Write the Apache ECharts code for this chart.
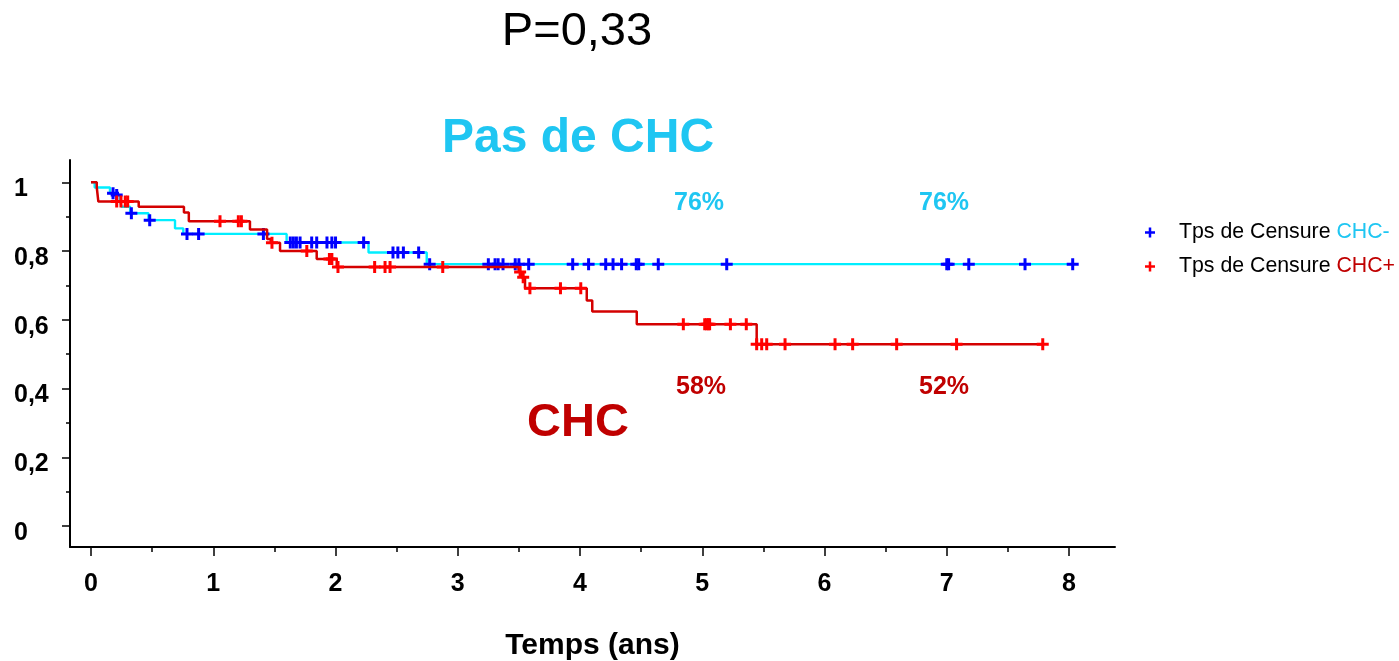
<!DOCTYPE html>
<html>
<head>
<meta charset="utf-8">
<script src="https://cdn.jsdelivr.net/npm/echarts@6/dist/echarts.min.js"></script>
<style>
html,body{margin:0;padding:0;background:#fff;}
#chart{width:1399px;height:661px;}
</style>
</head>
<body>
<div id="chart"></div>
<script>
// ---- Data ----
// Kaplan-Meier step curve, no CHC (CHC-): event times (years) and survival after each event
const blueTimes = [0, 0.03, 0.155, 0.196, 0.237, 0.25, 0.32, 0.47, 0.687, 0.755, 1.60, 2.27, 2.746];
const blueSurv  = [1.0, 0.985, 0.968, 0.963, 0.944, 0.929, 0.91, 0.89, 0.866, 0.85, 0.825, 0.796, 0.762];
const blueEnd = 8.03;
// censoring times CHC-
const blueCensor = [0.18, 0.21, 0.33, 0.48, 0.785, 0.88, 1.41, 1.63, 1.655, 1.68, 1.71, 1.805, 1.846,
  1.93, 1.97, 2.00, 2.23, 2.47, 2.51, 2.555, 2.68, 2.77, 3.25, 3.305, 3.33, 3.37, 3.47, 3.50, 3.58,
  3.94, 4.07, 4.21, 4.27, 4.34, 4.46, 4.48, 4.64, 5.20, 7.00, 7.015, 7.18, 7.64, 8.03];

// Kaplan-Meier step curve, CHC (CHC+)
const redTimes = [0, 0.047, 0.06, 0.39, 0.76, 0.80, 1.30, 1.44, 1.47, 1.546, 1.846, 2.01, 3.50, 3.52, 3.55, 4.055, 4.10, 4.464, 5.445];
const redSurv  = [1.0, 0.985, 0.944, 0.929, 0.912, 0.887, 0.863, 0.835, 0.824, 0.80, 0.777, 0.754, 0.739, 0.724, 0.692, 0.656, 0.624, 0.587, 0.529];
const redEnd = 7.785;
// censoring times CHC+
const redCensor = [0.21, 0.245, 0.28, 0.30, 1.055, 1.205, 1.23, 1.48, 1.765, 1.95, 1.97, 2.02, 2.32,
  2.405, 2.446, 2.877, 3.51, 3.535, 3.59, 3.84, 4.006, 4.845, 5.02, 5.035, 5.05, 5.06, 5.23, 5.36,
  5.445, 5.486, 5.527, 5.677, 6.086, 6.23, 6.59, 7.08, 7.785];

// Axis ticks
const xTicks = [0, 1, 2, 3, 4, 5, 6, 7, 8];
const xMinorTicks = [0.5, 1.5, 2.5, 3.5, 4.5, 5.5, 6.5, 7.5];
const yTicks = [0, 0.2, 0.4, 0.6, 0.8, 1];
const yMinorTicks = [0.1, 0.3, 0.5, 0.7, 0.9];

// Text
const titleText = 'P=0,33';
const xAxisName = 'Temps (ans)';
const labelNoCHC = 'Pas de CHC';
const labelCHC = 'CHC';
const pctNoCHC = ['76%', '76%'];
const pctCHC = ['58%', '52%'];

// ---- Helpers ----
function stepData(times, surv, end) {
  const d = times.map((t, i) => [t, surv[i]]);
  d.push([end, surv[surv.length - 1]]);
  return d;
}
function survAt(times, surv, t) {
  let s = surv[0];
  for (let i = 0; i < times.length; i++) { if (times[i] <= t) s = surv[i]; }
  return s;
}
function censorData(cens, times, surv) {
  return cens.map(t => [t, survAt(times, surv, t)]);
}

const FONT = '"Liberation Sans", Arial, Helvetica, sans-serif';
const CYAN_TXT = '#1FC6F2';
const DARK_RED = '#C00000';
const PLUS = 'path://M3.75,0H6.25V3.75H10V6.25H6.25V10H3.75V6.25H0V3.75H3.75Z';
const fmtNum = v => String(v).replace('.', ',');

const chart = echarts.init(document.getElementById('chart'), null, {renderer: 'canvas'});

const xMin = -0.172, xMax = 8.376, yMin = -0.061, yMax = 1.065;

const option = {
  animation: false,
  backgroundColor: '#fff',
  textStyle: {fontFamily: FONT},
  grid: {left: 70, right: 284, top: 160, bottom: 114, containLabel: false, outerBoundsMode: 'none'},
  xAxis: [
    {
      type: 'value', min: xMin, max: xMax, position: 'bottom',
      axisLine: {show: true, onZero: false, lineStyle: {color: '#000', width: 2}},
      axisTick: {show: true, customValues: xTicks, length: 9, lineStyle: {color: '#000', width: 1.5}},
      axisLabel: {show: true, customValues: xTicks, margin: 25, color: '#000', fontSize: 25, fontWeight: 'bold', fontFamily: FONT, formatter: fmtNum},
      splitLine: {show: false},
      name: xAxisName, nameLocation: 'middle', nameGap: 84,
      nameTextStyle: {color: '#000', fontSize: 30, fontWeight: 'bold', fontFamily: FONT}
    },
    {
      type: 'value', min: xMin, max: xMax, position: 'bottom', gridIndex: 0,
      axisLine: {show: false, onZero: false},
      axisTick: {show: true, customValues: xMinorTicks, length: 5, lineStyle: {color: '#000', width: 1.5}},
      axisLabel: {show: false},
      splitLine: {show: false}
    }
  ],
  yAxis: [
    {
      type: 'value', min: yMin, max: yMax, position: 'left',
      axisLine: {show: true, onZero: false, lineStyle: {color: '#000', width: 2}},
      axisTick: {show: true, customValues: yTicks, length: 8, lineStyle: {color: '#000', width: 1.5}},
      axisLabel: {show: true, customValues: yTicks, margin: 56, align: 'left',
        formatter: v => '{a|' + fmtNum(v) + '}',
        rich: {a: {color: '#000', fontSize: 25, fontWeight: 'bold', fontFamily: FONT, padding: [14, 0, 0, 0]}}},
      splitLine: {show: false}
    },
    {
      type: 'value', min: yMin, max: yMax, position: 'left', gridIndex: 0,
      axisLine: {show: false, onZero: false},
      axisTick: {show: true, customValues: yMinorTicks, length: 4, lineStyle: {color: '#000', width: 1.5}},
      axisLabel: {show: false},
      splitLine: {show: false}
    }
  ],
  legend: {
    orient: 'vertical', left: 1140, top: 217, itemWidth: 10, itemHeight: 10, itemGap: 13,
    data: [{name: 'CHC-', icon: PLUS, itemStyle: {color: '#0000FF'}}, {name: 'CHC+', icon: PLUS, itemStyle: {color: '#FF0000'}}],
    formatter: name => name === 'CHC-' ? '{sp|}{b|Tps de Censure }{c|CHC-}' : '{sp|}{b|Tps de Censure }{r|CHC+}',
    textStyle: {
      fontFamily: FONT, fontSize: 21, color: '#000',
      rich: {
        sp: {width: 19},
        b: {fontSize: 21.3, color: '#000', fontFamily: FONT},
        c: {fontSize: 21.3, color: CYAN_TXT, fontFamily: FONT},
        r: {fontSize: 21.3, color: DARK_RED, fontFamily: FONT}
      }
    },
    selectedMode: false
  },
  series: [
    {
      name: 'KM CHC-', type: 'line', step: 'end', xAxisIndex: 0, yAxisIndex: 0,
      data: stepData(blueTimes, blueSurv, blueEnd), showSymbol: false, symbol: 'none',
      lineStyle: {color: '#00EEFF', width: 2.4}, itemStyle: {color: '#00EEFF'}, silent: true, z: 2
    },
    {
      name: 'CHC-', type: 'scatter', xAxisIndex: 0, yAxisIndex: 0,
      data: censorData(blueCensor, blueTimes, blueSurv), symbol: PLUS, symbolSize: 12,
      itemStyle: {color: '#0000FF', opacity: 1}, silent: true, z: 3
    },
    {
      name: 'KM CHC+', type: 'line', step: 'end', xAxisIndex: 0, yAxisIndex: 0,
      data: stepData(redTimes, redSurv, redEnd), showSymbol: false, symbol: 'none',
      lineStyle: {color: '#D40000', width: 2.5}, itemStyle: {color: '#D40000'}, silent: true, z: 4
    },
    {
      name: 'CHC+', type: 'scatter', xAxisIndex: 0, yAxisIndex: 0,
      data: censorData(redCensor, redTimes, redSurv), symbol: PLUS, symbolSize: 12,
      itemStyle: {color: '#FF0000', opacity: 1}, silent: true, z: 5
    }
  ],
  graphic: [
    {type: 'text', x: 577, y: 32, style: {text: titleText, fill: '#000', font: 'normal 47px ' + FONT, align: 'center', verticalAlign: 'middle'}},
    {type: 'text', x: 578, y: 139, style: {text: labelNoCHC, fill: CYAN_TXT, font: 'bold 48px ' + FONT, align: 'center', verticalAlign: 'middle'}},
    {type: 'text', x: 578, y: 423, style: {text: labelCHC, fill: DARK_RED, font: 'bold 47px ' + FONT, align: 'center', verticalAlign: 'middle'}},
    {type: 'text', x: 699, y: 203, style: {text: pctNoCHC[0], fill: CYAN_TXT, font: 'bold 25px ' + FONT, align: 'center', verticalAlign: 'middle'}},
    {type: 'text', x: 944, y: 203, style: {text: pctNoCHC[1], fill: CYAN_TXT, font: 'bold 25px ' + FONT, align: 'center', verticalAlign: 'middle'}},
    {type: 'text', x: 701, y: 387, style: {text: pctCHC[0], fill: DARK_RED, font: 'bold 25px ' + FONT, align: 'center', verticalAlign: 'middle'}},
    {type: 'text', x: 944, y: 387, style: {text: pctCHC[1], fill: DARK_RED, font: 'bold 25px ' + FONT, align: 'center', verticalAlign: 'middle'}}
  ]
};
chart.setOption(option);
</script>
</body>
</html>
